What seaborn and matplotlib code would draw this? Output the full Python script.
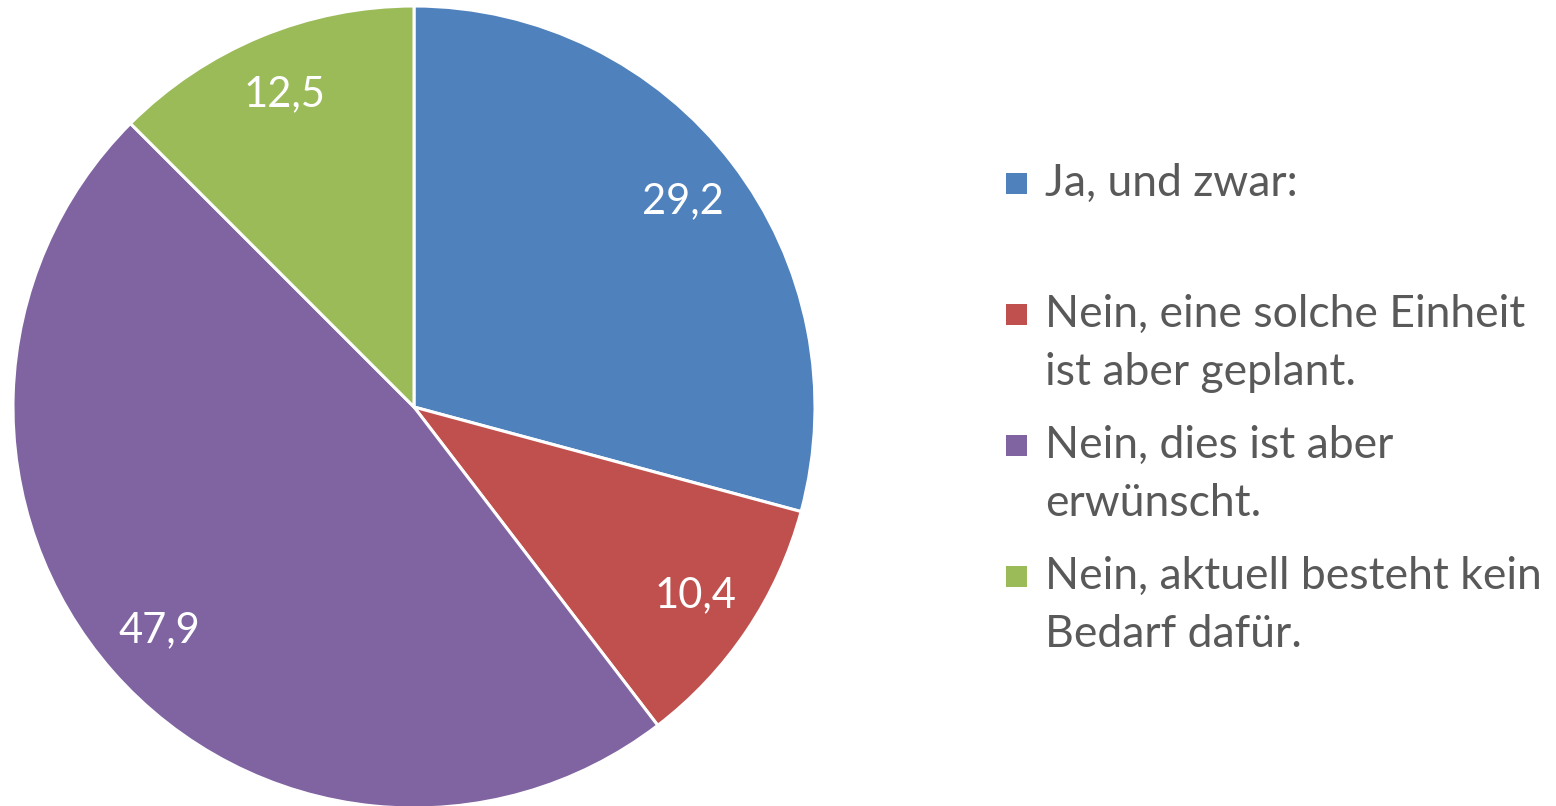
import matplotlib
matplotlib.use("Agg")
import matplotlib.pyplot as plt
import seaborn as sns
import numpy as np
from matplotlib.patches import Rectangle

sns.set_theme(style="white")
plt.rcParams['font.family'] = ['Lato', 'DejaVu Sans']

# data
labels = ["Ja, und zwar:",
          "Nein, eine solche Einheit\nist aber geplant.",
          "Nein, dies ist aber\nerwünscht.",
          "Nein, aktuell besteht kein\nBedarf dafür."]
values = [29.2, 10.4, 47.9, 12.5]
value_labels = ["29,2", "10,4", "47,9", "12,5"]
colors = ["#4F81BD", "#C0504D", "#8064A2", "#9BBB59"]

W, H = 1556, 806
fig = plt.figure(figsize=(W / 100, H / 100), dpi=100)

# pie centered at (414, 407) px, radius ~401 px
cx, cy, r = 414, 407, 401
ax = fig.add_axes([(cx - r) / W, (H - cy - r) / H, 2 * r / W, 2 * r / H])

wedges, texts = ax.pie(values, colors=colors, startangle=90, counterclock=False,
                       wedgeprops=dict(edgecolor="white", linewidth=2.2))
ax.set_aspect("equal")
ax.set_xlim(-1, 1)
ax.set_ylim(-1, 1)
ax.axis("off")

# value labels inside slices
for w, lab in zip(wedges, value_labels):
    ang = np.deg2rad((w.theta1 + w.theta2) / 2)
    ax.text(0.845 * np.cos(ang), 0.845 * np.sin(ang), lab, ha="center", va="center",
            color="white", fontsize=30)

# legend drawn by hand so that every entry gets the same slot height
text_color = "#595959"
y0 = 183
step = 131
for i, (lab, col) in enumerate(zip(labels, colors)):
    y = y0 + i * step
    fig.patches.append(Rectangle((1006 / W, 1 - (y + 11) / H), 21 / W, 21 / H,
                                 transform=fig.transFigure, facecolor=col,
                                 edgecolor="none"))
    fig.text(1045 / W, 1 - (y - 20) / H, lab, ha="left", va="top", color=text_color,
             fontsize=32, linespacing=1.52)

fig.savefig("out.png", dpi=100)
